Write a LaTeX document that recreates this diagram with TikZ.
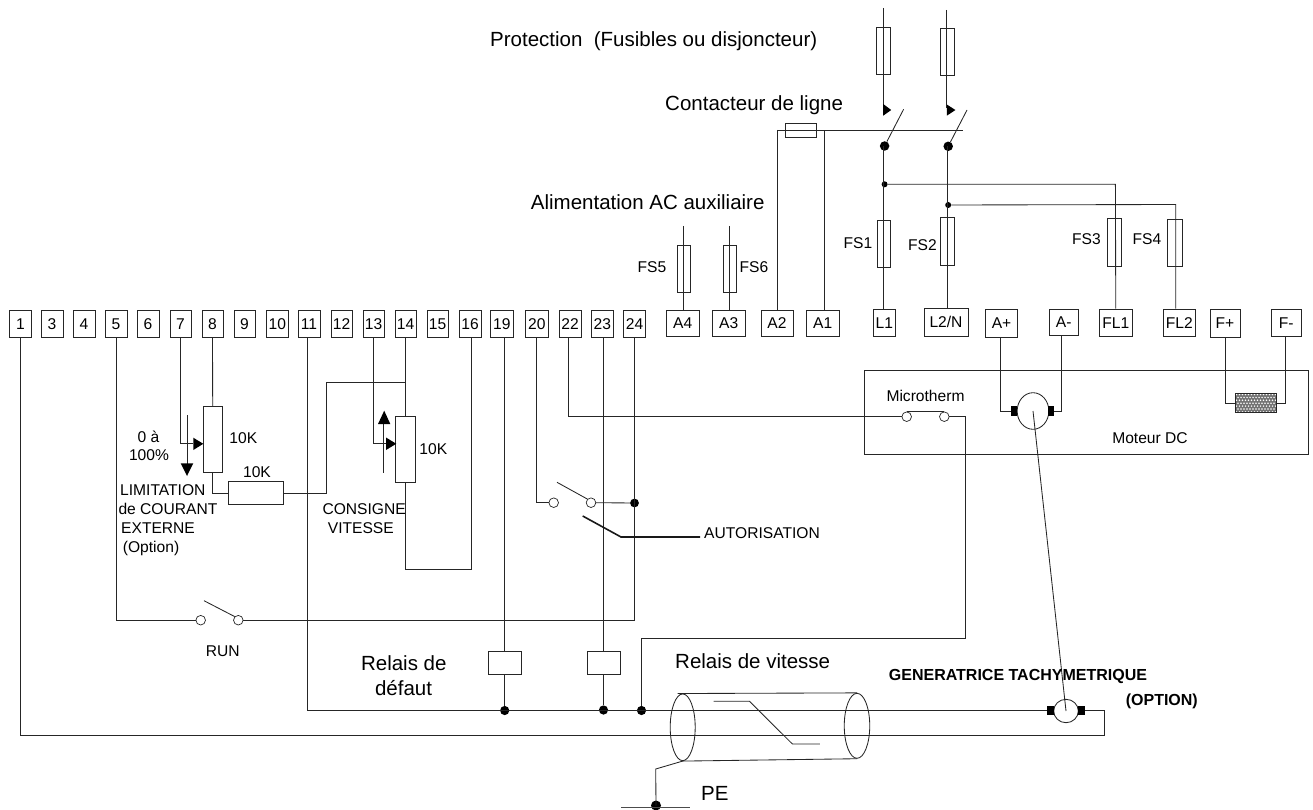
\documentclass[tikz,border=0pt]{standalone}
\usepackage{fontspec}
\setmainfont{Liberation Sans}
\usetikzlibrary{shapes.geometric}
\tikzset{
  wire/.style={draw=black!85,line width=0.85pt},
  box/.style={rectangle,draw=black!85,line width=0.85pt,inner sep=0},
  term/.style={box,font=\fontsize{15.6}{18}\selectfont,text height=11.2pt,text depth=0pt},
  txts/.style={inner sep=0,font=\fontsize{15.6}{18}\selectfont,text height=11.2pt,text depth=0pt},
  txtb/.style={inner sep=0,font=\fontsize{20.5}{25}\selectfont,text height=14.7pt,text depth=0pt},
  txtbold/.style={inner sep=0,font=\fontsize{16}{18}\bfseries\selectfont,text height=11.5pt,text depth=0pt},
  blackdot/.style={circle,fill=black,inner sep=0,minimum size=#1},
  hollow/.style={circle,draw=black!85,line width=0.7pt,fill=white,inner sep=0,minimum size=9.6pt},
  brush/.style={rectangle,fill=black,inner sep=0,minimum width=6.5pt,minimum height=9.5pt},
  oval/.style={ellipse,draw=black!85,line width=0.85pt,inner sep=0},
}
\begin{document}
\begin{tikzpicture}[x=1pt,y=-1pt]
\useasboundingbox (0,0) rectangle (1313,810);
% terminals
\foreach \a/\b/\c/\d/\n/\t in {
 9.5/31.5/310.5/337/t1/1, 41/63/310.5/337/t3/3, 73/95/310.5/337/t4/4, 105/127/310.5/337/t5/5,
 137/159/310.5/337/t6/6, 170/191/310.5/337/t7/7, 202/223/310.5/337/t8/8, 234/255/310.5/337/t9/9,
 266.5/288/310.5/337/t10/10, 298/320/310.5/337/t11/11, 331/352/310.5/337/t12/12, 363/384/310.5/337/t13/13,
 395/416/310.5/337/t14/14, 427/448/310.5/337/t15/15, 459/481/310.5/337/t16/16, 490.5/513/310.5/337/t19/19,
 525.5/548/310.5/337/t20/20, 559/581/310.5/337/t22/22, 591/613.5/310.5/337/t23/23, 623.5/645.5/310.5/337/t24/24,
 666.5/699/310/336/tA4/A4, 712.5/745/310/336/tA3/A3, 761/793/310/336/tA2/A2, 806.5/839/310/336/tA1/A1,
 873.5/895/309.5/336/tL1/L1, 924/968/308/336/tL2/L2\slash N, 985.5/1017.5/309/337/tAp/A+, 1049/1078.5/309/335/tAm/A-,
 1099.5/1132/309/336/tFL1/FL1, 1163/1195.5/309/336/tFL2/FL2, 1210/1240/309/337/tFp/F+, 1271.5/1301/309/336/tFm/F-}{
  \node[term,minimum width={(\b-\a)*1pt},minimum height={(\d-\c)*1pt}] (\n) at ({(\a+\b)/2},{(\c+\d)/2}) {\t};
}
% fuses
\foreach \x/\y/\w/\h/\n in {
 883.2/51/13.6/46.6/fTopA, 947.2/51.8/13.6/47/fTopB, 884/243.6/12.9/47.3/fs1, 947.3/241.5/13.3/47.6/fs2,
 1114.3/242.3/13.5/47.3/fs3, 1174.5/242.6/15/46.7/fs4, 684/269.2/12.9/47/fs5, 729.8/269.2/13.2/47/fs6,
 801.2/130.3/31/14/coil}{
  \node[box,minimum width=\w pt,minimum height=\h pt] (\n) at (\x,\y) {};
}
\node[box,minimum width=19pt,minimum height=65.6pt] (pot1) at (212.7,439.5) {};
\node[box,minimum width=20pt,minimum height=66pt] (pot2) at (405.5,449) {};
\node[box,minimum width=54.6pt,minimum height=23pt] (res) at (256,493) {};
\node[box,minimum width=33.4pt,minimum height=22.6pt] (rel1) at (504.7,663) {};
\node[box,minimum width=33pt,minimum height=22.6pt] (rel2) at (603.5,663) {};
\node[box,minimum width=444pt,minimum height=84pt] (motbox) at (1086,412.5) {};
% junction dots
\node[blackdot=9.5pt] (dL1) at (884.6,146) {};
\node[blackdot=9.5pt] (dL2) at (948.2,146.3) {};
\node[blackdot=6pt] (dF1) at (884.6,184.3) {};
\node[blackdot=6pt] (dF2) at (948.2,205) {};
\node[blackdot=8.8pt] (dAut) at (634.5,503) {};
\node[blackdot=9.2pt] (d19) at (504.7,710.5) {};
\node[blackdot=9.2pt] (d23) at (603.5,710) {};
\node[blackdot=9.2pt] (d24) at (641.5,710.5) {};
\node[blackdot=10pt] (gnd) at (656,805.5) {};
% contacts
\node[hollow] (run1) at (200.7,620.2) {};
\node[hollow] (run2) at (238.3,620.2) {};
\node[hollow] (aut1) at (553.7,502.7) {};
\node[hollow] (aut2) at (591,502.7) {};
\node[hollow] (mic1) at (906.7,416.7) {};
\node[hollow] (mic2) at (944.3,416.7) {};
% machines
\node[oval,minimum width=31.7pt,minimum height=36.6pt] (mot) at (1033,411) {};
\node[brush,minimum width=6pt,minimum height=10pt] (mbL) at (1014.3,411) {};
\node[brush,minimum width=6pt,minimum height=10pt] (mbR) at (1051.2,411) {};
\node[oval,minimum width=24.6pt,minimum height=23.4pt] (tach) at (1066,711) {};
\node[brush,minimum width=7pt] (tbL) at (1050.7,710.5) {};
\node[brush,minimum width=7pt] (tbR) at (1081.5,710.5) {};
\node[oval,minimum width=25pt,minimum height=66.7pt] (cabL) at (682.7,727.3) {};
\node[oval,minimum width=25.5pt,minimum height=65pt] (cabR) at (857,725.8) {};
% field winding
\node[box,fill=black!55,minimum width=41.4pt,minimum height=19.4pt] (field) at (1256,403) {};
\begin{scope}
 \clip (field.south west) rectangle (field.north east);
 \foreach \i in {0,...,13}{\foreach \j in {0,...,6}{
   \fill[white] ({1236.5+3*\i+1.5*mod(\j,2)},{394.5+2.9*\j}) circle (0.85pt);}}
\end{scope}
\node[box,minimum width=41.4pt,minimum height=19.4pt] at (field.center) {};
% free ends
\coordinate (topA) at (883.2,8);
\coordinate (armA) at (883.2,108);
\coordinate (topB) at (946.8,10);
\coordinate (armB) at (946.8,108);
\coordinate (bladeA) at (903.6,109.3);
\coordinate (bladeB) at (967,110);
\coordinate (coilL) at (777.5,130);
\coordinate (coilR) at (962.5,130);
\coordinate (inA4) at (683.2,226);
\coordinate (inA3) at (729.3,226);
\coordinate (bus1) at (1115.4,184.3);
\coordinate (bus2) at (1175.7,204.5);
\coordinate (cor14) at (326.7,382);
\coordinate (bot16) at (405.5,569.7);
\coordinate (bladeRun) at (204,600.7);
\coordinate (bladeAut) at (557,482.3);
\coordinate (micEnd) at (965.3,638.5);
\coordinate (lowR) at (1104.3,735.5);
\coordinate (hiR) at (1104.3,710.5);
% supply
\draw[wire] (topA) -- (armA);
\draw[wire] (topB) -- (armB);
\fill (883.2,104) -- (883.2,115.7) -- (891.2,110) -- cycle;
\fill (946.8,104.5) -- (946.8,115.7) -- (955.4,110) -- cycle;
\draw[wire] (dL1) -- (bladeA);
\draw[wire] (dL2) -- (bladeB);
\draw[wire] (coilL) -- (coilR);
\draw[wire] (coilL) -- (coilL |- tA2.north);
\draw[wire] ([xshift=1.5]tA1.north) -- ([xshift=1.5]tA1.north |- coilL);
\draw[wire] ([xshift=-1]tL1.north) -- ([xshift=-1]tL1.north |- dL1);
\draw[wire] ([xshift=1]tL2.north) -- ([xshift=1]tL2.north |- dL2);
\draw[wire] (dF1) -- (bus1) -- (tFL1.north);
\draw[wire] (dF2) -- (bus2) -- (bus2 |- tFL2.north);
\draw[wire] (inA4) -- (inA4 |- tA4.north);
\draw[wire] (inA3) -- (inA3 |- tA3.north);
% potentiometers
\draw[wire] (t7.south) |- (193.3,443.7);
\fill (193.3,437.7) -- (193.3,450) -- (203.3,443.8) -- cycle;
\draw[wire] (t8.south) -- (pot1.north);
\draw[wire] (pot1.south) |- (res.west);
\draw[wire] (res.east) -| (cor14) -- (cor14 -| t14.south);
\draw[wire] (187,415.3) -- (187,464);
\fill (180.7,463.3) -- (193.3,463.3) -- (187,476) -- cycle;
\draw[wire] (t14.south) -- (pot2.north);
\draw[wire] (pot2.south) -- (bot16) -| ([xshift=1]t16.south);
\draw[wire] (t13.south) |- (386,443.7);
\fill (386,437.5) -- (386,450) -- (396.3,443.8) -- cycle;
\draw[wire] (383.3,472.7) -- (383.3,423);
\fill (378,424) -- (390.3,424) -- (384.2,410.7) -- cycle;
% lower wiring
\draw[wire] (t5.south) |- (run1.west);
\draw[wire] (bladeRun) -- (run2.north west);
\draw[wire] (run2.east) -- (run2 -| t24.south) -- (t24.south);
\draw[wire] ([xshift=-1.3]t11.south) |- (tbL.west);
\draw[wire] ([xshift=2.95]t19.south) -- (rel1.north);
\draw[wire] (rel1.south) -- (d19);
\draw[wire] ([xshift=1.25]t23.south) -- (rel2.north);
\draw[wire] (rel2.south) -- (d23);
\draw[wire] (t20.south) |- (aut1.west);
\draw[wire] (bladeAut) -- (aut2.north west);
\draw[wire] (aut2.east) -- (dAut);
\draw[line width=1.6pt,black!90] (582.7,516) -- (621,537) -- (700,537);
\draw[wire] ([xshift=-1.5]t22.south) |- (mic1.west);
\draw[wire] (mic1.north) -- (mic2.north);
\draw[wire] (mic2.east) -| (micEnd) -| (d24);
\draw[wire] ([xshift=-.8]tAp.south) |- (mbL.west);
\draw[wire] ([xshift=-2.7]tAm.south) |- (mbR.east);
\draw[wire] ([xshift=.7]tFp.south) |- (field.west);
\draw[wire] ([xshift=-.5]tFm.south) |- (field.east);
\draw[wire] (mot.center) -- (tach.center);
\draw[wire] (t1.south) |- (lowR) -- (hiR) -- (tbR.east);
% cable
\draw[wire] ([xshift=-5]cabL.north) -- (cabR.north);
\draw[wire] (cabL.south) -- (cabR.south);
\draw[wire] (713.6,701.3) -- (749.5,701.3) -- (792.4,744) -- (819.8,744);
\draw[wire] (cabL.south) -- (655.7,769) -- (gnd.center);
\draw[line width=1.5pt,black!70] (621,807.7) -- (689.5,807.7);
% labels
\node[txtb,anchor=west] (lProt) at (490,39.3) {Protection\ \ (Fusibles ou disjoncteur)};
\node[txtb,anchor=west] (lCont) at (665,103) {Contacteur de ligne};
\node[txtb,anchor=west] (lAlim) at (530.7,201.7) {Alimentation AC auxiliaire};
\node[txts] (lFS1) at (858,243) {FS1};
\node[txts] (lFS2) at (922.5,245) {FS2};
\node[txts] (lFS3) at (1086.5,238.5) {FS3};
\node[txts] (lFS4) at (1147,238.5) {FS4};
\node[txts] (lFS5) at (652,267) {FS5};
\node[txts] (lFS6) at (754,267) {FS6};
\node[txts] (l0a) at (148.5,436.7) {0 à};
\node[txts] (l100) at (149,454.7) {100\%};
\node[txts] (lK1) at (243.3,437.7) {10K};
\node[txts] (lK2) at (257,471.7) {10K};
\node[txts] (lK3) at (433.3,449.3) {10K};
\node[txts,anchor=west] (lLim) at (120,490.3) {LIMITATION};
\node[txts,anchor=west] (lCou) at (118.3,509.3) {de COURANT};
\node[txts,anchor=west] (lExt) at (121,528.3) {EXTERNE};
\node[txts,anchor=west] (lOpt) at (122.7,547.3) {(Option)};
\node[txts,anchor=west] (lCon) at (322.3,509.3) {CONSIGNE};
\node[txts,anchor=west] (lVit) at (327.7,528.3) {VITESSE};
\node[txts,anchor=west] (lAut) at (704,533.3) {AUTORISATION};
\node[txts] (lMic) at (925.5,395.7) {Microtherm};
\node[txts] (lMot) at (1150,438.3) {Moteur DC};
\node[txts] (lRun) at (222.7,651) {RUN};
\node[txtb] (lRd1) at (403.8,662.7) {Relais de};
\node[txtb] (lRd2) at (403.5,687.7) {défaut};
\node[txtb,anchor=west] (lRv) at (675,660.7) {Relais de vitesse};
\node[txtbold,anchor=west] (lGen) at (888.7,674.3) {GENERATRICE TACHYMETRIQUE};
\node[txtbold,anchor=west] (lOp2) at (1125.6,700) {(OPTION)};
\node[txtb,anchor=west] (lPE) at (701,793) {PE};
\end{tikzpicture}
\end{document}
